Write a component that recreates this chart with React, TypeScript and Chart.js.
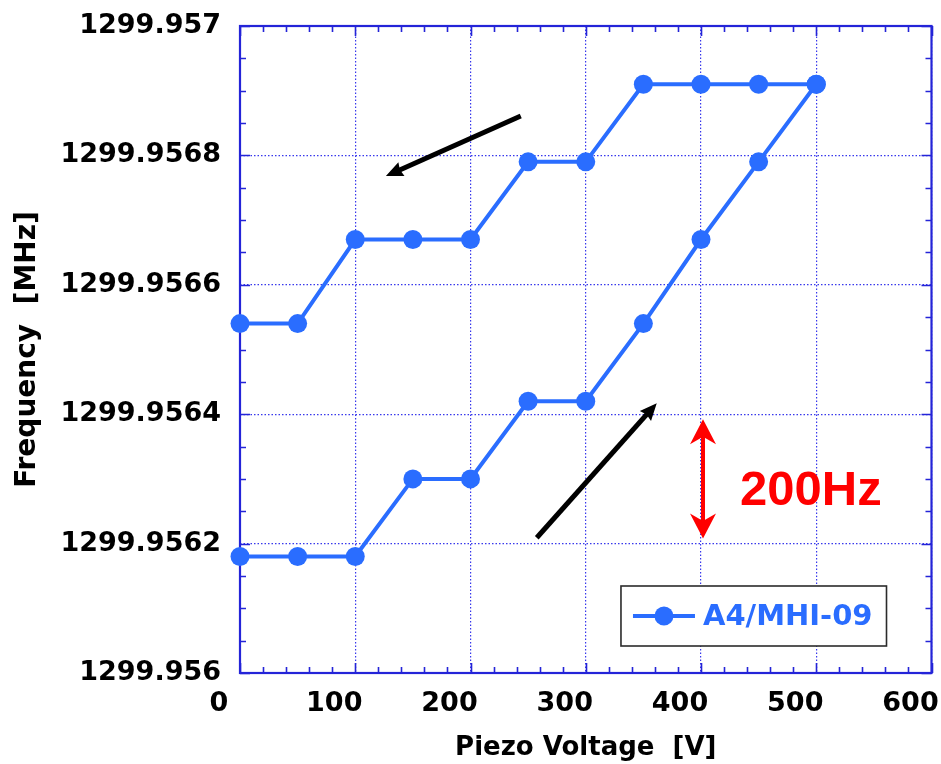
import { useEffect, useRef } from 'react';
import { Chart, registerables } from 'chart.js';

Chart.register(...registerables);

// Piezo sweep: voltage steps and the measured cavity frequency (MHz)
const voltage = [0, 50, 100, 150, 200, 250, 300, 350, 400, 450, 500];
// frequency while the voltage is raised 0 -> 500 V
const freqRising = [
  1299.95618, 1299.95618, 1299.95618, 1299.9563, 1299.9563, 1299.95642,
  1299.95642, 1299.95654, 1299.95667, 1299.95679, 1299.95691,
];
// frequency while the voltage is lowered 500 -> 0 V (listed by voltage)
const freqFalling = [
  1299.95654, 1299.95654, 1299.95667, 1299.95667, 1299.95667, 1299.95679,
  1299.95679, 1299.95691, 1299.95691, 1299.95691, 1299.95691,
];

const seriesLabel = 'A4/MHI-09';
const xTitle = 'Piezo Voltage  [V]';
const yTitle = 'Frequency  [MHz]';

const X_MIN = 0;
const X_MAX = 600;
const X_STEP = 100;
const X_MINOR_PER_STEP = 5;
const Y_MIN = 1299.956;
const Y_MAX = 1299.957;
const Y_STEP = 0.0002;
const Y_MINOR_PER_STEP = 4;

// sweep direction arrows, in data coordinates [voltage, MHz]
const sweepArrows = [
  { from: [243.6, 1299.956861], to: [126.6, 1299.956768] },
  { from: [257.5, 1299.956209], to: [361.6, 1299.956417] },
];
// 200 Hz scale bar
const scaleBarVoltage = 400;
const scaleBarLow = 1299.9562;
const scaleBarHigh = 1299.9564;
const scaleBarLabel = '200Hz';

const FONT = "'DejaVu Sans', 'Noto Sans', sans-serif";
const BLUE = '#2a6dff';
const AXIS_BLUE = '#2424d8';
const GRID_BLUE = 'rgba(45, 45, 235, 0.95)';

const sweepPoints = [
  ...voltage.map((v, i) => ({ x: v, y: freqRising[i] })),
  ...voltage
    .map((v, i) => ({ x: v, y: freqFalling[i] }))
    .reverse(),
];

function drawArrowHead(
  ctx: CanvasRenderingContext2D,
  x0: number, y0: number, x1: number, y1: number,
  len: number, half: number, notch: number,
) {
  const ang = Math.atan2(y1 - y0, x1 - x0);
  const c = Math.cos(ang);
  const s = Math.sin(ang);
  const bx = x1 - c * len;
  const by = y1 - s * len;
  ctx.beginPath();
  ctx.moveTo(x1, y1);
  ctx.lineTo(bx - s * half, by + c * half);
  ctx.lineTo(x1 - c * len * (1 - notch), y1 - s * len * (1 - notch));
  ctx.lineTo(bx + s * half, by - c * half);
  ctx.closePath();
  ctx.fill();
}

const framePlugin = {
  id: 'frameTicks',
  beforeDatasetsDraw(chart: any) {
    const { ctx, chartArea: a, scales } = chart;
    const x = scales.x;
    const y = scales.y;
    ctx.save();
    ctx.strokeStyle = AXIS_BLUE;
    ctx.lineWidth = 1.6;
    ctx.beginPath();
    const nx = ((X_MAX - X_MIN) / X_STEP) * X_MINOR_PER_STEP;
    for (let i = 0; i <= nx; i++) {
      const v = X_MIN + (i * X_STEP) / X_MINOR_PER_STEP;
      const px = Math.round(x.getPixelForValue(v)) + 0.5;
      const len = i % X_MINOR_PER_STEP === 0 ? 10 : 6;
      ctx.moveTo(px, a.bottom);
      ctx.lineTo(px, a.bottom - len);
      ctx.moveTo(px, a.top);
      ctx.lineTo(px, a.top + len);
    }
    const ny = Math.round(((Y_MAX - Y_MIN) / Y_STEP) * Y_MINOR_PER_STEP);
    for (let i = 0; i <= ny; i++) {
      const v = Y_MIN + (i * Y_STEP) / Y_MINOR_PER_STEP;
      const py = Math.round(y.getPixelForValue(v)) + 0.5;
      const len = i % Y_MINOR_PER_STEP === 0 ? 10 : 6;
      ctx.moveTo(a.left, py);
      ctx.lineTo(a.left + len, py);
      ctx.moveTo(a.right, py);
      ctx.lineTo(a.right - len, py);
    }
    ctx.stroke();
    ctx.lineWidth = 2.2;
    ctx.strokeRect(a.left, a.top, a.right - a.left, a.bottom - a.top);
    ctx.restore();
  },
};

const annotationPlugin = {
  id: 'sweepAnnotations',
  afterDatasetsDraw(chart: any) {
    const { ctx, chartArea: a, scales } = chart;
    const x = scales.x;
    const y = scales.y;
    ctx.save();

    // black sweep-direction arrows
    ctx.strokeStyle = '#000';
    ctx.fillStyle = '#000';
    ctx.lineWidth = 5;
    ctx.lineCap = 'butt';
    for (const arr of sweepArrows) {
      const x0 = x.getPixelForValue(arr.from[0]);
      const y0 = y.getPixelForValue(arr.from[1]);
      const x1 = x.getPixelForValue(arr.to[0]);
      const y1 = y.getPixelForValue(arr.to[1]);
      const ang = Math.atan2(y1 - y0, x1 - x0);
      ctx.beginPath();
      ctx.moveTo(x0, y0);
      ctx.lineTo(x1 - Math.cos(ang) * 12, y1 - Math.sin(ang) * 12);
      ctx.stroke();
      drawArrowHead(ctx, x0, y0, x1, y1, 17, 7.5, 0.1);
    }

    // red 200 Hz double arrow
    const rx = x.getPixelForValue(scaleBarVoltage) + 2;
    const gap = 5;
    const ryTop = y.getPixelForValue(scaleBarHigh) + gap;
    const ryBot = y.getPixelForValue(scaleBarLow) - gap;
    ctx.strokeStyle = '#ff0000';
    ctx.fillStyle = '#ff0000';
    ctx.lineWidth = 4;
    ctx.beginPath();
    ctx.moveTo(rx, ryTop + 15);
    ctx.lineTo(rx, ryBot - 15);
    ctx.stroke();
    drawArrowHead(ctx, rx, ryBot, rx, ryTop, 25, 13, 0.3);
    drawArrowHead(ctx, rx, ryTop, rx, ryBot, 25, 13, 0.3);
    ctx.font = `bold 49px 'Liberation Sans', Arial, sans-serif`;
    ctx.textAlign = 'left';
    ctx.textBaseline = 'middle';
    ctx.fillText(scaleBarLabel, rx + 37, (ryTop + ryBot) / 2 + 13);

    // legend box inside the plot
    ctx.font = `bold 29px ${FONT}`;
    const textW = ctx.measureText(seriesLabel).width;
    const boxW = 12 + 62 + 8 + textW + 14;
    const boxH = 60;
    const bx = a.right - 45 - boxW;
    const by = a.bottom - 27 - boxH;
    ctx.fillStyle = '#fff';
    ctx.fillRect(bx, by, boxW, boxH);
    ctx.strokeStyle = '#2b2b2b';
    ctx.lineWidth = 1.6;
    ctx.strokeRect(bx, by, boxW, boxH);
    const ly = by + boxH / 2;
    ctx.strokeStyle = BLUE;
    ctx.lineWidth = 4;
    ctx.beginPath();
    ctx.moveTo(bx + 12, ly);
    ctx.lineTo(bx + 74, ly);
    ctx.stroke();
    ctx.fillStyle = BLUE;
    ctx.beginPath();
    ctx.arc(bx + 43, ly, 9.5, 0, Math.PI * 2);
    ctx.fill();
    ctx.textBaseline = 'middle';
    ctx.fillText(seriesLabel, bx + 82, ly + 1);

    ctx.restore();
  },
};

export default function App() {
  const canvasRef = useRef<HTMLCanvasElement | null>(null);

  useEffect(() => {
    const canvas = canvasRef.current;
    if (!canvas) return;
    const chart = new Chart(canvas, {
      type: 'scatter',
      data: {
        datasets: [
          {
            label: seriesLabel,
            data: sweepPoints,
            showLine: true,
            clip: false,
            borderColor: BLUE,
            backgroundColor: BLUE,
            borderWidth: 4,
            pointRadius: 9.5,
            pointBorderWidth: 0,
            pointHoverRadius: 9.5,
            pointBackgroundColor: BLUE,
            tension: 0,
          },
        ],
      },
      options: {
        animation: false,
        responsive: false,
        maintainAspectRatio: false,
        layout: { padding: { top: 26, right: 9, left: 0, bottom: 0 } },
        plugins: {
          legend: { display: false },
          tooltip: { enabled: false },
        },
        scales: {
          x: {
            type: 'linear',
            min: X_MIN,
            max: X_MAX,
            ticks: {
              stepSize: X_STEP,
              labelOffset: -21,
              padding: 15,
              color: '#000',
              maxRotation: 0,
              autoSkip: false,
              font: { family: FONT, size: 27, weight: 'bold' },
            },
            grid: { color: GRID_BLUE, lineWidth: 1.2, drawTicks: false },
            border: { display: false, dash: [1.5, 2] },
            title: {
              display: true,
              text: xTitle,
              color: '#000',
              font: { family: FONT, size: 26, weight: 'bold' },
              padding: { top: 0, bottom: 0 },
            },
            afterFit(scale: any) {
              scale.height = 91;
              scale.paddingLeft = 0;
              scale.paddingRight = 0;
            },
          },
          y: {
            type: 'linear',
            min: Y_MIN,
            max: Y_MAX,
            ticks: {
              stepSize: Y_STEP,
              padding: 19,
              color: '#000',
              font: { family: FONT, size: 27, weight: 'bold' },
              callback: (v: any) => Number(v).toFixed(4).replace(/0+$/, ''),
            },
            grid: { color: GRID_BLUE, lineWidth: 1.2, drawTicks: false },
            border: { display: false, dash: [1.5, 2] },
            title: {
              display: true,
              text: yTitle,
              color: '#000',
              font: { family: FONT, size: 28, weight: 'bold' },
              padding: { top: 11, bottom: 0 },
            },
            afterFit(scale: any) {
              scale.width = 240;
              scale.paddingTop = 0;
              scale.paddingBottom = 0;
            },
          },
        },
      } as any,
      plugins: [framePlugin, annotationPlugin],
    });
    return () => chart.destroy();
  }, []);

  return (
    <div style={{ position: 'fixed', left: 0, top: 0, width: 941, height: 764, background: '#fff' }}>
      <canvas ref={canvasRef} width={941} height={764} />
    </div>
  );
}
